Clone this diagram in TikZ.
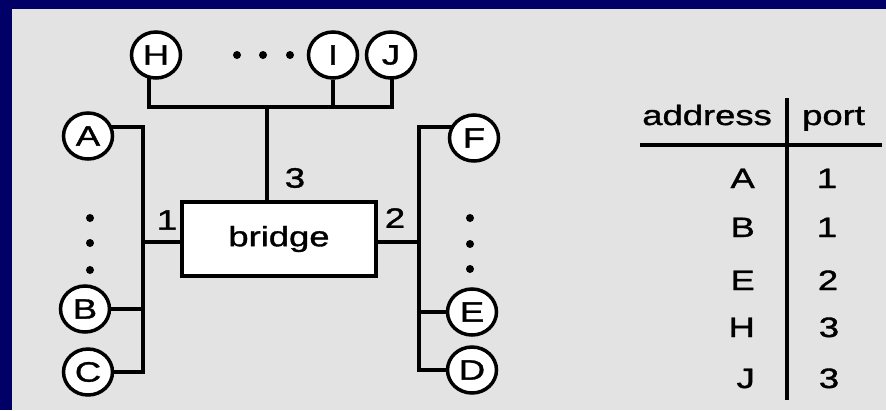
\documentclass[tikz,border=0pt]{standalone}
\usepackage{fontspec}
\setmainfont{Liberation Sans}[FakeStretch=1.3,FakeBold=1.3]
\usetikzlibrary{shapes.geometric}
\pgfdeclarelayer{bg}
\pgfsetlayers{bg,main}
\definecolor{navy}{RGB}{0,0,102}
\definecolor{panel}{RGB}{227,227,227}
\begin{document}
\begin{tikzpicture}[x=1pt,y=-1pt,
  station/.style={ellipse, draw, fill=white, line width=3.5pt, minimum width=49pt, minimum height=46pt, inner sep=0pt, font=\fontsize{28}{30}\selectfont},
  wire/.style={line width=4pt},
  rule/.style={line width=4pt},
  dotmark/.style={circle, fill=black, inner sep=0pt, minimum size=8pt},
  lbl/.style={font=\fontsize{28}{30}\selectfont, inner sep=0pt},
  boxstyle/.style={rectangle, draw, fill=white, line width=4.5pt, minimum width=194pt, minimum height=74pt, inner sep=0pt, font=\fontsize{28}{30}\selectfont}]
\useasboundingbox (0,0) rectangle (886,410);
% stations
\node[station] (H) at (156,55) {H};
\node[station] (I) at (333,55) {I};
\node[station] (J) at (391,55) {J};
\node[station] (A) at (88,136) {A};
\node[station] (B) at (85,309) {B};
\node[station] (C) at (88,372) {C};
\node[station] (F) at (474,138) {F};
\node[station] (E) at (472,312) {E};
\node[station] (D) at (472,370) {D};
% bridge
\node[boxstyle] (bridge) at (279,239) {bridge};
% dots
\node[dotmark] (h1) at (237,55) {};
\node[dotmark] (h2) at (263,55) {};
\node[dotmark] (h3) at (290,55) {};
\node[dotmark] (l1) at (90,218) {};
\node[dotmark] (l2) at (90,243) {};
\node[dotmark] (l3) at (90,270) {};
\node[dotmark] (r1) at (470,218) {};
\node[dotmark] (r2) at (470,244) {};
\node[dotmark] (r3) at (470,269) {};
% port labels
\node[lbl] (n1) at (167,220) {1};
\node[lbl] (n2) at (395,218) {2};
\node[lbl] (n3) at (295,178) {3};
% bus coordinates
\coordinate (tl) at (149,107);
\coordinate (tr) at (392,107);
\coordinate (p3) at (267,107);
\coordinate (lt) at (143,127);
\coordinate (lb) at (143,372);
\coordinate (p1) at (143,242);
\coordinate (rt) at (419,127);
\coordinate (rb) at (419,370);
\coordinate (p2) at (419,242);
\begin{pgfonlayer}{bg}
\fill[navy] (0,0) rectangle (886,410);
\fill[panel] (12,9) rectangle (886,410);
\draw[wire] (tl |- H) -- (tl) -- (tr) -- (tr |- J);
\draw[wire] (I) -- (I |- tl);
\draw[wire] (p3) -- (p3 |- bridge);
\draw[wire] (lt -| A) -- (lt) -- (lb) -- (lb -| C);
\draw[wire] (B) -- (B -| lt);
\draw[wire] (p1) -- (p1 -| bridge);
\draw[wire] (rt -| F) -- (rt) -- (rb) -- (rb -| D);
\draw[wire] (E) -- (E -| rt);
\draw[wire] (p2) -- (p2 -| bridge);
\end{pgfonlayer}
% table
\node[lbl, anchor=base east] (haddr) at (772,125) {address};
\node[lbl, anchor=base west] (hport) at (802,125) {port};
\node[lbl, anchor=base east] (tA) at (755,188) {A};
\node[lbl, anchor=base east] (tB) at (755,237) {B};
\node[lbl, anchor=base east] (tE) at (755,290) {E};
\node[lbl, anchor=base east] (tH) at (755,337) {H};
\node[lbl, anchor=base east] (tJ) at (755,388) {J};
\node[lbl, anchor=base] (pA) at (827,188) {1};
\node[lbl, anchor=base] (pB) at (827,237) {1};
\node[lbl, anchor=base] (pE) at (828,290) {2};
\node[lbl, anchor=base] (pH) at (829,337) {3};
\node[lbl, anchor=base] (pJ) at (829,388) {3};
\coordinate (hl) at (640,145);
\coordinate (hr) at (882,145);
\coordinate (vt) at (787,98);
\coordinate (vb) at (787,400);
\draw[rule] (hl) -- (hr);
\draw[rule] (vt) -- (vb);
\end{tikzpicture}
\end{document}
